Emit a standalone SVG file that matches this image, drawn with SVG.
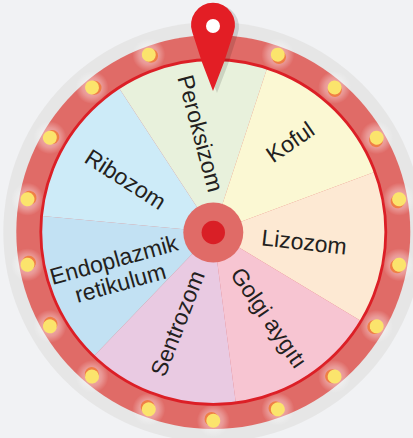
<svg xmlns="http://www.w3.org/2000/svg" xmlns:xlink="http://www.w3.org/1999/xlink" width="413" height="438" viewBox="0 0 413 438">
<style>
.lbl{font-family:"Liberation Sans",Arial,Helvetica,sans-serif;font-size:23px;fill:#231f20;text-anchor:middle}
.seg{stroke:none}
</style>
<defs>
<radialGradient id="halo">
<stop offset="0" stop-color="#ffffff" stop-opacity="0.55"/>
<stop offset="0.6" stop-color="#ffffff" stop-opacity="0.3"/>
<stop offset="1" stop-color="#ffffff" stop-opacity="0"/>
</radialGradient>
<g id="bulb">
<circle cx="213.3" cy="43.3" r="16.5" fill="url(#halo)"/>
<circle cx="215.1" cy="45.1" r="7" fill="#f07f45"/>
<circle cx="213.3" cy="43.3" r="7" fill="#fbe46c"/>
</g>
</defs>
<rect width="413" height="438" fill="#f1f2f4"/>
<g id="rim">
<circle cx="213.3" cy="232" r="210" fill="#e6e6e6"/>
<circle cx="213.3" cy="232" r="197" fill="#e06b67"/>
</g>
<g id="segments">
<path id="seg-peroksizom" class="seg" fill="#e8f1dc" d="M213.3,232 L119,88.1 A172,172 0 0 1 267,68.6 Z"/>
<path id="seg-koful" class="seg" fill="#fbf8d3" d="M213.3,232 L267,68.6 A172,172 0 0 1 374.5,172.1 Z"/>
<path id="seg-lizozom" class="seg" fill="#fde9d3" d="M213.3,232 L374.5,172.1 A172,172 0 0 1 360.6,320.75 Z"/>
<path id="seg-golgi" class="seg" fill="#f7c5d2" d="M213.3,232 L360.6,320.75 A172,172 0 0 1 235.8,402.5 Z"/>
<path id="seg-sentrozom" class="seg" fill="#e9cae2" d="M213.3,232 L235.8,402.5 A172,172 0 0 1 94,355.9 Z"/>
<path id="seg-endoplazmik" class="seg" fill="#c2e1f3" d="M213.3,232 L94,355.9 A172,172 0 0 1 42,216 Z"/>
<path id="seg-ribozom" class="seg" fill="#cdebf8" d="M213.3,232 L42,216 A172,172 0 0 1 119,88.1 Z"/>
<circle cx="213.3" cy="232" r="172.5" fill="none" stroke="#dc1f26" stroke-width="2.8"/>
</g>
<g id="bulbs">
<use xlink:href="#bulb" transform="rotate(20 213.3 232)"/>
<use xlink:href="#bulb" transform="rotate(40 213.3 232)"/>
<use xlink:href="#bulb" transform="rotate(60 213.3 232)"/>
<use xlink:href="#bulb" transform="rotate(80 213.3 232)"/>
<use xlink:href="#bulb" transform="rotate(100 213.3 232)"/>
<use xlink:href="#bulb" transform="rotate(120 213.3 232)"/>
<use xlink:href="#bulb" transform="rotate(140 213.3 232)"/>
<use xlink:href="#bulb" transform="rotate(160 213.3 232)"/>
<use xlink:href="#bulb" transform="rotate(180 213.3 232)"/>
<use xlink:href="#bulb" transform="rotate(200 213.3 232)"/>
<use xlink:href="#bulb" transform="rotate(220 213.3 232)"/>
<use xlink:href="#bulb" transform="rotate(240 213.3 232)"/>
<use xlink:href="#bulb" transform="rotate(260 213.3 232)"/>
<use xlink:href="#bulb" transform="rotate(280 213.3 232)"/>
<use xlink:href="#bulb" transform="rotate(300 213.3 232)"/>
<use xlink:href="#bulb" transform="rotate(320 213.3 232)"/>
<use xlink:href="#bulb" transform="rotate(340 213.3 232)"/>
</g>
<g id="labels">
<g id="lbl-peroksizom" transform="translate(200.8 133.3) rotate(75)"><text class="lbl" x="0" y="0" dy="0.36em">Peroksizom</text></g>
<g id="lbl-koful" transform="translate(290 141.7) rotate(-34.5)"><text class="lbl" x="0" y="0" dy="0.36em">Koful</text></g>
<g id="lbl-lizozom" transform="translate(304.2 241.7) rotate(6.4)"><text class="lbl" x="0" y="0" dy="0.36em">Lizozom</text></g>
<g id="lbl-golgi" transform="translate(269.3 317.7) rotate(55.6)"><text class="lbl" x="0" y="0" dy="0.36em">Golgi aygıtı</text></g>
<g id="lbl-sentrozom" transform="translate(177.3 323.3) rotate(-68.7)"><text class="lbl" x="0" y="0" dy="0.36em">Sentrozom</text></g>
<g id="lbl-endoplazmik" transform="translate(117 271) rotate(-15.5)"><text class="lbl" x="0" y="-12" dy="0.36em">Endoplazmik</text><text class="lbl" x="0" y="12" dy="0.36em">retikulum</text></g>
<g id="lbl-ribozom" transform="translate(125.7 179) rotate(32.7)"><text class="lbl" x="0" y="0" dy="0.36em">Ribozom</text></g>
</g>
<g id="hub">
<circle cx="213.3" cy="232.5" r="30" fill="#e06b67"/>
<circle cx="213.3" cy="232.5" r="11.7" fill="#d91f26"/>
</g>
<g id="pointer">
<path d="M213,91 Q201,62 192.3,32.3 A22,22 0 1 1 233.7,32.3 Q225,62 213,91 Z" fill="#000" opacity="0.12" transform="translate(4 2)"/>
<path d="M213,91 Q201,62 192.3,32.3 A22,22 0 1 1 233.7,32.3 Q225,62 213,91 Z" fill="#e31e25"/>
<circle cx="213" cy="26" r="7" fill="#ffffff"/>
</g>
</svg>
